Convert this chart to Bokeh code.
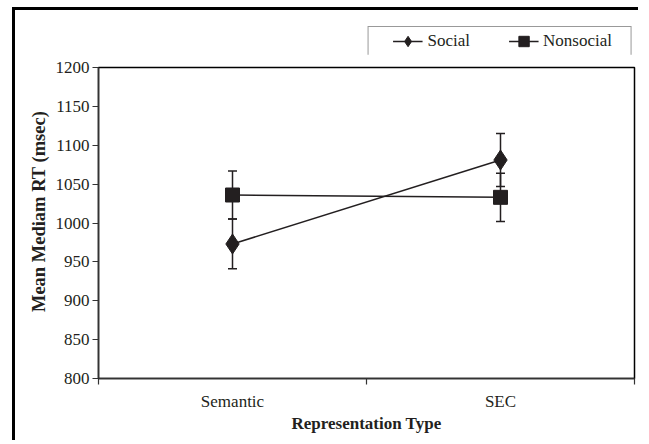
from bokeh.plotting import figure
from bokeh.layouts import column
from bokeh.models import (Range1d, FixedTicker, Whisker, TeeHead, ColumnDataSource,
                          Legend, LegendItem)
from bokeh.embed import file_html
from bokeh.resources import INLINE

# ---- data ----
categories = ["Semantic", "SEC"]
social = [973, 1081]
social_err = [32, 34]
nonsocial = [1036, 1033]
nonsocial_err = [31, 31]
y_ticks = [800, 850, 900, 950, 1000, 1050, 1100, 1150, 1200]
series_labels = ["Social", "Nonsocial"]
y_label = "Mean Mediam RT (msec)"
x_label = "Representation Type"

INK = "#231f20"
FONT = "Liberation Serif"
W = 626

xs = [i + 0.5 for i in range(len(categories))]
bounds = list(range(len(categories) + 1))

# ---------------- main chart ----------------
p = figure(width=W, height=386, x_range=Range1d(0, len(categories)),
           y_range=Range1d(y_ticks[0], y_ticks[-1]),
           output_backend="svg", toolbar_location=None,
           min_border_left=83, min_border_right=7, min_border_top=13, min_border_bottom=62)
p.styles = {"border-left": "3px solid black", "margin-left": "12px"}

p.xgrid.visible = False
p.ygrid.visible = False
p.outline_line_color = "black"
p.outline_line_width = 1.5
p.background_fill_color = "white"
p.border_fill_color = "white"

for ax in (p.xaxis[0], p.yaxis[0]):
    ax.axis_line_color = "#333333"
    ax.axis_line_width = 1.5
    ax.major_tick_line_color = "#333333"
    ax.minor_tick_line_color = "#333333"
    ax.major_tick_line_width = 1.2
    ax.minor_tick_line_width = 1.2
    ax.major_label_text_font = FONT
    ax.major_label_text_font_size = "17px"
    ax.major_label_text_color = INK
    ax.axis_label_text_font = FONT
    ax.axis_label_text_font_style = "bold"
    ax.axis_label_text_font_size = "17px"
    ax.axis_label_text_color = INK

p.yaxis.ticker = FixedTicker(ticks=y_ticks)
p.yaxis.major_tick_out = 6
p.yaxis.major_tick_in = 0
p.yaxis.minor_tick_out = 0
p.yaxis.minor_tick_in = 0
p.yaxis.major_label_standoff = 3
# leading no-break spaces shift the centred title upward, as in the reference
p.yaxis.axis_label = "\u00a0" * 5 + y_label
p.yaxis.axis_label_text_font_size = "18.5px"
p.yaxis.axis_label_standoff = 4

p.xaxis.ticker = FixedTicker(ticks=xs, minor_ticks=bounds)
p.xaxis.major_tick_out = 0
p.xaxis.major_tick_in = 0
p.xaxis.minor_tick_out = 6
p.xaxis.minor_tick_in = 0
p.xaxis.major_label_overrides = {x: c for x, c in zip(xs, categories)}
p.xaxis.major_label_standoff = 7
p.xaxis.axis_label = x_label
p.xaxis.axis_label_standoff = 0

src_s = ColumnDataSource(dict(x=xs, y=social,
                              lo=[v - e for v, e in zip(social, social_err)],
                              hi=[v + e for v, e in zip(social, social_err)]))
src_n = ColumnDataSource(dict(x=xs, y=nonsocial,
                              lo=[v - e for v, e in zip(nonsocial, nonsocial_err)],
                              hi=[v + e for v, e in zip(nonsocial, nonsocial_err)]))
for src in (src_s, src_n):
    p.add_layout(Whisker(base="x", lower="lo", upper="hi", source=src,
                         line_color=INK, line_width=1.5,
                         lower_head=TeeHead(size=9, line_color=INK, line_width=1.5),
                         upper_head=TeeHead(size=9, line_color=INK, line_width=1.5)))

line_kw = dict(line_color=INK, line_width=1.5)
p.line("x", "y", source=src_s, **line_kw)
p.scatter("x", "y", source=src_s, marker="diamond", size=20, fill_color=INK, line_color=INK)
p.line("x", "y", source=src_n, **line_kw)
p.scatter("x", "y", source=src_n, marker="square", size=14, fill_color=INK, line_color=INK)

# ---------------- legend strip (above the chart) ----------------
lf = figure(width=W, height=47, x_range=Range1d(0, 1), y_range=Range1d(0, 1),
            x_axis_location=None, y_axis_location=None,
            output_backend="svg", toolbar_location=None,
            min_border_left=0, min_border_right=0, min_border_top=14, min_border_bottom=0)
lf.styles = {"border-left": "3px solid black", "border-top": "3px solid black",
             "margin-left": "12px", "margin-top": "7px"}
lf.outline_line_color = None
lf.grid.visible = False
lf.background_fill_color = "white"
lf.border_fill_color = "white"

# legend proxies: same series, but they fall outside this strip's (empty) view
pl1 = lf.line("x", "y", source=src_s, **line_kw)
pm1 = lf.scatter("x", "y", source=src_s, marker="diamond", size=20, fill_color=INK, line_color=INK)
pl2 = lf.line("x", "y", source=src_n, **line_kw)
pm2 = lf.scatter("x", "y", source=src_n, marker="square", size=14, fill_color=INK, line_color=INK)

legend = Legend(items=[LegendItem(label=series_labels[0], renderers=[pl1, pm1]),
                       LegendItem(label=series_labels[1], renderers=[pl2, pm2])],
                location="top_right", orientation="horizontal")
legend.label_text_font = FONT
legend.label_text_font_size = "17px"
legend.label_text_color = INK
legend.glyph_width = 30
legend.glyph_height = 26
legend.label_height = 20
legend.label_standoff = 5
legend.spacing = 38
legend.margin = 2
legend.border_line_color = "#333333"
legend.border_line_width = 1
legend.background_fill_alpha = 1.0
try:
    legend.padding = dict(left=24, right=19, top=1, bottom=1)
except Exception:
    legend.padding = 4
lf.add_layout(legend)

page = column(lf, p, spacing=0)
open("out.html", "w").write(file_html(page, INLINE))
